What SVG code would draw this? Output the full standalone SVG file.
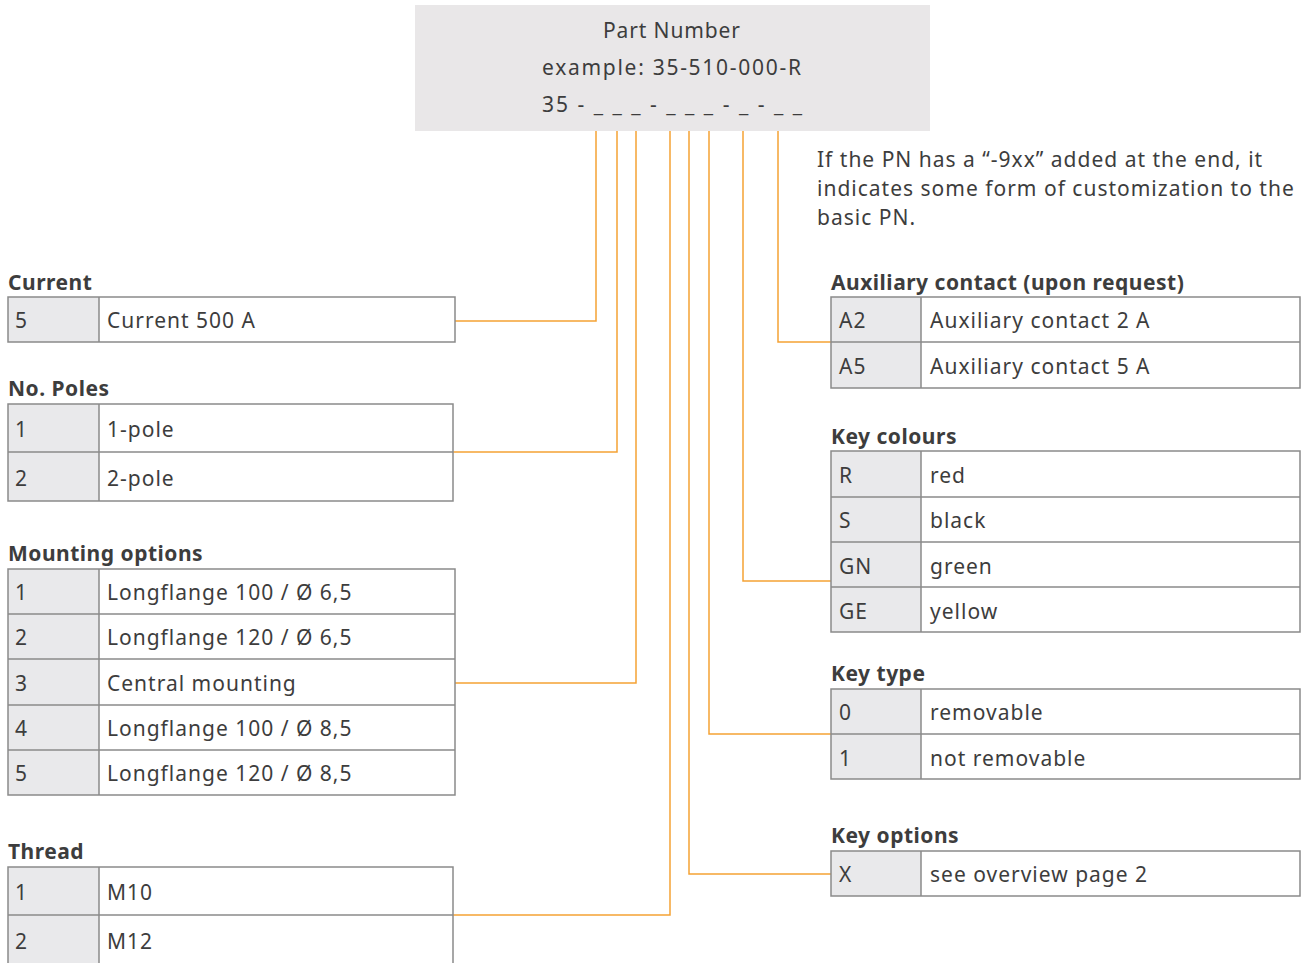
<svg xmlns="http://www.w3.org/2000/svg" width="1302" height="963" viewBox="0 0 1302 963">
<style>
text{font-family:"Noto Sans","Liberation Sans",sans-serif;fill:#3d3d3d;font-size:21px;letter-spacing:1px}
.h{font-weight:bold;font-size:21px;letter-spacing:0.5px}
.c{text-anchor:middle}
.k{fill:#e9e9eb}
.t{fill:none;stroke:#8a8a8a;stroke-width:1.5}
.con{fill:none;stroke:#f5a234;stroke-width:1.5}
</style>
<rect width="1302" height="963" fill="#fff"/>
<g id="part-number">
<rect x="415" y="5" width="515" height="126" fill="#e9e7e8"/>
<text x="603" y="38" textLength="138" lengthAdjust="spacing">Part Number</text>
<text x="542" y="75" textLength="260" lengthAdjust="spacing">example: 35-510-000-R</text>
<text x="542" y="112" textLength="261" lengthAdjust="spacing">35 - _ _ _ - _ _ _ - _ - _ _</text>
</g>
<g id="note">
<text x="817" y="167">If the PN has a “-9xx” added at the end, it</text>
<text x="817" y="196">indicates some form of customization to the</text>
<text x="817" y="225">basic PN.</text>
</g>
<g id="connectors">
<polyline class="con" points="596,131 596,321 455,321"/>
<polyline class="con" points="617,131 617,452 453,452"/>
<polyline class="con" points="636,131 636,683 455,683"/>
<polyline class="con" points="670,131 670,915 453,915"/>
<polyline class="con" points="689,131 689,874 831,874"/>
<polyline class="con" points="709,131 709,734 831,734"/>
<polyline class="con" points="743,131 743,581 831,581"/>
<polyline class="con" points="778,131 778,342 831,342"/>
</g>
<g id="current">
<text class="h" x="8" y="290">Current</text>
<rect class="k" x="8" y="297" width="91" height="45"/>
<rect class="t" x="8" y="297" width="447" height="45"/>
<line class="t" x1="99" y1="297" x2="99" y2="342"/>
<text x="15" y="328">5</text><text x="107" y="328">Current 500 A</text>
</g>
<g id="poles">
<text class="h" x="8" y="396">No. Poles</text>
<rect class="k" x="8" y="404" width="91" height="97"/>
<rect class="t" x="8" y="404" width="445" height="97"/>
<line class="t" x1="99" y1="404" x2="99" y2="501"/>
<line class="t" x1="8" y1="452" x2="453" y2="452"/>
<text x="15" y="437">1</text><text x="107" y="437">1-pole</text>
<text x="15" y="486">2</text><text x="107" y="486">2-pole</text>
</g>
<g id="mounting">
<text class="h" x="8" y="561">Mounting options</text>
<rect class="k" x="8" y="569" width="91" height="226"/>
<rect class="t" x="8" y="569" width="447" height="226"/>
<line class="t" x1="99" y1="569" x2="99" y2="795"/>
<line class="t" x1="8" y1="614" x2="455" y2="614"/>
<line class="t" x1="8" y1="659" x2="455" y2="659"/>
<line class="t" x1="8" y1="705" x2="455" y2="705"/>
<line class="t" x1="8" y1="750" x2="455" y2="750"/>
<text x="15" y="600">1</text><text x="107" y="600">Longflange 100 / Ø 6,5</text>
<text x="15" y="645">2</text><text x="107" y="645">Longflange 120 / Ø 6,5</text>
<text x="15" y="691">3</text><text x="107" y="691">Central mounting</text>
<text x="15" y="736">4</text><text x="107" y="736">Longflange 100 / Ø 8,5</text>
<text x="15" y="781">5</text><text x="107" y="781">Longflange 120 / Ø 8,5</text>
</g>
<g id="thread">
<text class="h" x="8" y="859">Thread</text>
<rect class="k" x="8" y="867" width="91" height="100"/>
<rect class="t" x="8" y="867" width="445" height="100"/>
<line class="t" x1="99" y1="867" x2="99" y2="967"/>
<line class="t" x1="8" y1="915" x2="453" y2="915"/>
<text x="15" y="900">1</text><text x="107" y="900">M10</text>
<text x="15" y="949">2</text><text x="107" y="949">M12</text>
</g>
<g id="aux">
<text class="h" x="831" y="290">Auxiliary contact (upon request)</text>
<rect class="k" x="831" y="297" width="90" height="91"/>
<rect class="t" x="831" y="297" width="469" height="91"/>
<line class="t" x1="921" y1="297" x2="921" y2="388"/>
<line class="t" x1="831" y1="342" x2="1300" y2="342"/>
<text x="839" y="328">A2</text><text x="930" y="328">Auxiliary contact 2 A</text>
<text x="839" y="374">A5</text><text x="930" y="374">Auxiliary contact 5 A</text>
</g>
<g id="colours">
<text class="h" x="831" y="444">Key colours</text>
<rect class="k" x="831" y="451" width="90" height="181"/>
<rect class="t" x="831" y="451" width="469" height="181"/>
<line class="t" x1="921" y1="451" x2="921" y2="632"/>
<line class="t" x1="831" y1="497" x2="1300" y2="497"/>
<line class="t" x1="831" y1="542" x2="1300" y2="542"/>
<line class="t" x1="831" y1="587" x2="1300" y2="587"/>
<text x="839" y="483">R</text><text x="930" y="483">red</text>
<text x="839" y="528">S</text><text x="930" y="528">black</text>
<text x="839" y="574">GN</text><text x="930" y="574">green</text>
<text x="839" y="619">GE</text><text x="930" y="619">yellow</text>
</g>
<g id="keytype">
<text class="h" x="831" y="681">Key type</text>
<rect class="k" x="831" y="689" width="90" height="90"/>
<rect class="t" x="831" y="689" width="469" height="90"/>
<line class="t" x1="921" y1="689" x2="921" y2="779"/>
<line class="t" x1="831" y1="734" x2="1300" y2="734"/>
<text x="839" y="720">0</text><text x="930" y="720">removable</text>
<text x="839" y="766">1</text><text x="930" y="766">not removable</text>
</g>
<g id="keyoptions">
<text class="h" x="831" y="843">Key options</text>
<rect class="k" x="831" y="851" width="90" height="45"/>
<rect class="t" x="831" y="851" width="469" height="45"/>
<line class="t" x1="921" y1="851" x2="921" y2="896"/>
<text x="839" y="882">X</text><text x="930" y="882">see overview page 2</text>
</g>
</svg>
